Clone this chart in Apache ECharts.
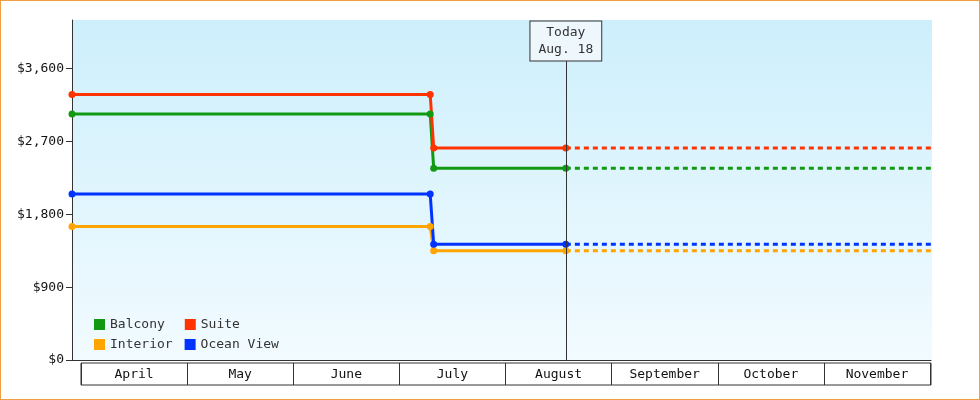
<!DOCTYPE html><html><head><meta charset="utf-8">
<script src="https://cdn.jsdelivr.net/npm/echarts@6/dist/echarts.min.js"></script>
<style>html,body{margin:0;padding:0}#c{width:980px;height:400px;box-sizing:border-box;border:1px solid #f0a040}</style>
</head><body><div id="c"></div><script>
const dates=['2024-03-29','2024-07-10','2024-07-11','2024-08-18'];
const future=['2024-08-18','2024-12-01'];
const months=['April','May','June','July','August','September','October','November'];
const names=['Balcony','Suite','Interior','Ocean View'];
const colors=['#119911','#ff3300','#ffa500','#0033ff'];
const balcony=[3040,3040,2370,2370];
const suite=[3280,3280,2620,2620];
const interior=[1650,1650,1350,1350];
const ocean=[2050,2050,1430,1430];
const vals=[balcony,suite,interior,ocean];
const yTicks=[0,900,1800,2700,3600];
const font='DejaVu Sans Mono';
const series=[];
names.forEach((n,i)=>{
 series.push({name:n,type:'line',data:dates.map((d,j)=>[d,vals[i][j]]),color:colors[i],symbol:'circle',symbolSize:7,lineStyle:{width:3},itemStyle:{color:colors[i]}});
 series.push({name:n,type:'line',data:future.map(d=>[d,vals[i][3]]),color:colors[i],symbol:'none',lineStyle:{width:3,type:[5,4]}});
});
series[0].markLine={silent:true,symbol:'none',lineStyle:{color:'#333',type:'solid',width:1},label:{show:true,position:'end',distance:0,formatter:'Today\nAug. 18',fontFamily:font,fontSize:13,color:'#333',backgroundColor:'#eef8fc',borderColor:'#333',borderWidth:1,padding:[3,8,2,8],lineHeight:17},data:[[{coord:['2024-08-18',0]},{coord:['2024-08-18',3700]}]]};
series.push({type:'bar',xAxisIndex:1,yAxisIndex:1,data:months.map(()=>0)});
const chart=echarts.init(document.getElementById('c'));
chart.setOption({
 animation:false,
 graphic:[{type:'rect',shape:{x:71,y:19,width:860,height:341},z:-10,style:{fill:new echarts.graphic.LinearGradient(0,0,0,1,[{offset:0,color:'#cdeffc'},{offset:1,color:'#f2fbff'}])}}],
 grid:[{left:71,right:48,top:19,bottom:39},{left:80,right:49,top:362,height:22}],
 legend:[{data:['Balcony','Suite'],left:88,top:312,itemWidth:11,itemHeight:11,itemGap:20,icon:'rect',textStyle:{fontFamily:font,fontSize:13,color:'#333'}},
 {data:['Interior','Ocean View'],left:88,top:332,itemWidth:11,itemHeight:11,itemGap:12,icon:'rect',textStyle:{fontFamily:font,fontSize:13,color:'#333'}}],
 xAxis:[{type:'time',min:'2024-03-29',max:'2024-12-01',axisLabel:{show:false},axisTick:{show:false},splitLine:{show:false},axisLine:{lineStyle:{color:'#333'}}},
 {type:'category',gridIndex:1,data:months,boundaryGap:true,axisLine:{show:false},axisTick:{show:false},splitLine:{show:true,lineStyle:{color:'#333'}},axisLabel:{fontFamily:font,fontSize:13,color:'#111',margin:-18},position:'top'}],
 yAxis:[{type:'value',min:0,max:4200,interval:900,axisLine:{show:true,lineStyle:{color:'#333'}},axisTick:{show:true,length:6,customValues:yTicks},splitLine:{show:false},
 axisLabel:{fontFamily:font,fontSize:13,color:'#111',customValues:yTicks,formatter:v=>'$'+v.toLocaleString('en-US')}},
 {type:'value',gridIndex:1,show:false}],
 series:series
});
chart.getZr().add(new echarts.graphic.Rect({shape:{x:80,y:362,width:850,height:22},style:{fill:'none',stroke:'#333'}}));
</script></body></html>
